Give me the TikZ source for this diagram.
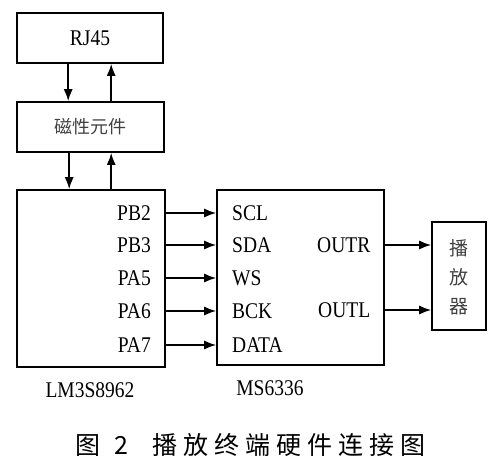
\documentclass[tikz,border=0pt]{standalone}
\usepackage{fontspec}
\setmainfont{Liberation Serif}
\newfontfamily\cjk{Noto Sans CJK SC}
\newfontfamily\capfont[LetterSpace=24]{Noto Sans CJK SC}
\usetikzlibrary{arrows.meta,calc}
\newcommand\vstretch[1]{\scalebox{1}[1.15]{#1}}
\begin{document}
\begin{tikzpicture}[x=1pt,y=-1pt,
  box/.style={draw,line width=1.6pt,inner sep=0pt},
  pin/.style={font=\fontsize{19.5}{20}\selectfont,inner sep=0pt},
  lbl/.style={font=\fontsize{19.5}{20}\selectfont,inner sep=0pt},
  conn/.style={line width=1.6pt,-{Latex[length=12pt,width=9pt]}}]
\useasboundingbox (0,0) rectangle (500,464);
% boxes
\node[box,minimum width=146pt,minimum height=50pt] (rj) at (90,38) {\fontsize{19.5}{20}\selectfont\vstretch{RJ45}};
\node[box,minimum width=147pt,minimum height=50pt] (mag) at (90.5,127) {\cjk\fontsize{18}{20}\selectfont\color{black!75}磁性元件};
\node[box,minimum width=148pt,minimum height=177pt] (lm) at (91,278.5) {};
\node[box,minimum width=167pt,minimum height=175pt] (ms) at (300.5,277.5) {};
\node[box,minimum width=54pt,minimum height=108pt] (spk) at (459,276) {};
\node[inner sep=0pt,align=center,text=black!75,font=\cjk\fontsize{19}{29}\selectfont] (spkt) at (459,277) {播\\放\\器};
% chip labels
\node[lbl] (lmname) at (90,390) {\vstretch{LM3S8962}};
\node[lbl] (msname) at (270,388) {\vstretch{MS6336}};
% pins
\foreach \n/\t/\y in {pb2/PB2/213,pb3/PB3/245,pa5/PA5/278,pa6/PA6/311,pa7/PA7/345}
  \node[pin,anchor=east] (\n) at (151,\y) {\vstretch{\t}};
\foreach \n/\t/\y in {scl/SCL/213,sda/SDA/245,ws/WS/278,bck/BCK/311,dat/DATA/345}
  \node[pin,anchor=west] (\n) at (232,\y) {\vstretch{\t}};
\node[pin,anchor=west] (outr) at (317,245) {\vstretch{OUTR}};
\node[pin,anchor=west] (outl) at (318,310) {\vstretch{OUTL}};
% connectors
\foreach \a/\b in {pb2/scl,pb3/sda,pa5/ws,pa6/bck,pa7/dat}
  \draw[conn] (lm.east |- \a.center) -- (ms.west |- \b.center);
\draw[conn] (ms.east |- outr.center) -- (spk.west |- outr.center);
\draw[conn] (ms.east |- outl.center) -- (spk.west |- outl.center);
% vertical arrows
\draw[conn] ([xshift=52pt]rj.south west) -- ([xshift=52pt]rj.south west |- mag.north);
\draw[conn] ([xshift=95pt]mag.north west) -- ([xshift=95pt]mag.north west |- rj.south);
\draw[conn] ([xshift=53pt]mag.south west) -- ([xshift=53pt]mag.south west |- lm.north);
\draw[conn] ([xshift=95pt]lm.north west) -- ([xshift=95pt]lm.north west |- mag.south);
% caption
\node[inner sep=0pt,font=\capfont\fontsize{25}{26}\selectfont] (cap) at (250.5,445) {图\hspace{14pt}2\hspace{24pt}播放终端硬件连接图};
\end{tikzpicture}
\end{document}
